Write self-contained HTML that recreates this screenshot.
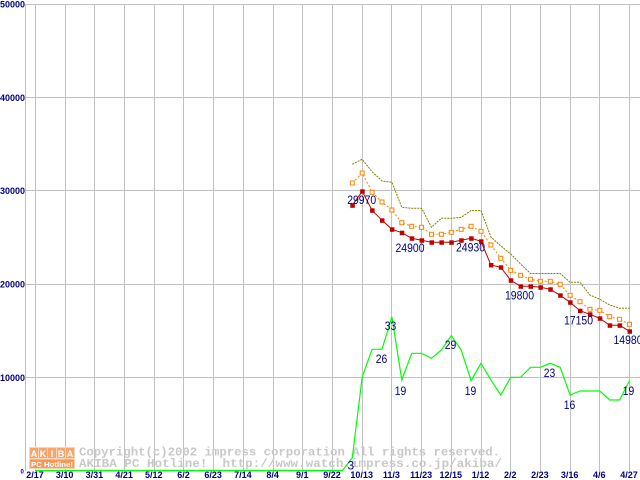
<!DOCTYPE html>
<html><head><meta charset="utf-8"><style>
html,body{margin:0;padding:0;background:#fff;}
svg{display:block;}
</style></head><body>
<svg width="640" height="480" viewBox="0 0 640 480" xmlns="http://www.w3.org/2000/svg">
<rect x="0" y="0" width="640" height="480" fill="#fff"/>
<g stroke="#c0c0c0" stroke-width="1" fill="none">
<line x1="25" y1="4.5" x2="640" y2="4.5"/>
<line x1="25" y1="97.5" x2="640" y2="97.5"/>
<line x1="25" y1="190.5" x2="640" y2="190.5"/>
<line x1="25" y1="284.5" x2="640" y2="284.5"/>
<line x1="25" y1="377.5" x2="640" y2="377.5"/>
<line x1="25.5" y1="4" x2="25.5" y2="471"/>
<line x1="35.5" y1="4" x2="35.5" y2="471"/>
<line x1="65.5" y1="4" x2="65.5" y2="471"/>
<line x1="94.5" y1="4" x2="94.5" y2="471"/>
<line x1="124.5" y1="4" x2="124.5" y2="471"/>
<line x1="154.5" y1="4" x2="154.5" y2="471"/>
<line x1="183.5" y1="4" x2="183.5" y2="471"/>
<line x1="213.5" y1="4" x2="213.5" y2="471"/>
<line x1="243.5" y1="4" x2="243.5" y2="471"/>
<line x1="273.5" y1="4" x2="273.5" y2="471"/>
<line x1="302.5" y1="4" x2="302.5" y2="471"/>
<line x1="332.5" y1="4" x2="332.5" y2="471"/>
<line x1="362.5" y1="4" x2="362.5" y2="471"/>
<line x1="391.5" y1="4" x2="391.5" y2="471"/>
<line x1="421.5" y1="4" x2="421.5" y2="471"/>
<line x1="451.5" y1="4" x2="451.5" y2="471"/>
<line x1="481.5" y1="4" x2="481.5" y2="471"/>
<line x1="510.5" y1="4" x2="510.5" y2="471"/>
<line x1="540.5" y1="4" x2="540.5" y2="471"/>
<line x1="570.5" y1="4" x2="570.5" y2="471"/>
<line x1="599.5" y1="4" x2="599.5" y2="471"/>
<line x1="629.5" y1="4" x2="629.5" y2="471"/>
</g>

<!-- watermark -->
<g>
<rect x="29" y="447" width="46" height="22" fill="#fcd6b4"/>
<rect x="30" y="448" width="8" height="10" fill="#f6a56c"/>
<rect x="39" y="448" width="8" height="10" fill="#f6a56c"/>
<rect x="48" y="448" width="8" height="10" fill="#f6a56c"/>
<rect x="57" y="448" width="8" height="10" fill="#f6a56c"/>
<rect x="66" y="448" width="8" height="10" fill="#f6a56c"/>
<text x="34" y="457" font-family="Liberation Sans, sans-serif" font-size="9" font-weight="bold" fill="#fff" text-anchor="middle">A</text>
<text x="43" y="457" font-family="Liberation Sans, sans-serif" font-size="9" font-weight="bold" fill="#fff" text-anchor="middle">K</text>
<text x="52" y="457" font-family="Liberation Sans, sans-serif" font-size="9" font-weight="bold" fill="#fff" text-anchor="middle">I</text>
<text x="61" y="457" font-family="Liberation Sans, sans-serif" font-size="9" font-weight="bold" fill="#fff" text-anchor="middle">B</text>
<text x="70" y="457" font-family="Liberation Sans, sans-serif" font-size="9" font-weight="bold" fill="#fff" text-anchor="middle">A</text>
<rect x="30" y="459.5" width="44" height="8.5" fill="#f29a5c"/>
<text x="31" y="467" font-family="Liberation Sans, sans-serif" font-size="7.5" font-weight="bold" fill="#fff" textLength="42" lengthAdjust="spacingAndGlyphs">PC Hotline!</text>
<text x="79" y="455.5" font-family="Liberation Mono, monospace" font-size="12" font-weight="bold" fill="#c8c8c8" textLength="421" lengthAdjust="spacingAndGlyphs" xml:space="preserve">Copyright(c)2002 impress corporation All rights reserved.</text>
<text x="79" y="467" font-family="Liberation Mono, monospace" font-size="12" font-weight="bold" fill="#c8c8c8" textLength="423" lengthAdjust="spacingAndGlyphs" xml:space="preserve">AKIBA PC Hotline!  http://www.watch.impress.co.jp/akiba/</text>
</g>

<!-- olive -->
<polyline fill="none" stroke="#808000" stroke-width="1" stroke-dasharray="2,1" points="352.3,164.3 362.2,159.3 372.1,171.7 382,181 391.9,182.3 401.8,207.3 411.7,208.3 421.6,208.3 431.5,227.3 441.4,218.3 451.3,218.3 461.2,217.3 471.1,210.5 481,210.5 490.9,237 500.8,246 510.7,254 520.6,264 530.5,273.5 540.4,273.5 550.3,273.5 560.2,273.5 570.1,282.3 580,282.3 589.9,295 599.8,299.3 609.7,305 619.6,308.3 629.5,308.3"/>

<!-- orange -->
<polyline fill="none" stroke="#ff8000" stroke-width="1" stroke-dasharray="2,2" points="352.3,183 362.2,173 372.1,192.3 382,202 391.9,210 401.8,222.7 411.7,226.3 421.6,227.3 431.5,234.3 441.4,234.3 451.3,232.3 461.2,229.3 471.1,226.3 481,231.3 490.9,245 500.8,258.3 510.7,270.3 520.6,275.3 530.5,279.3 540.4,281.3 550.3,281.3 560.2,284.3 570.1,295.3 580,301.7 589.9,309.3 599.8,310.3 609.7,316.7 619.6,319.3 629.5,324.3"/>
<g fill="#fff" stroke="#ff8000" stroke-width="1">
<rect x="350.3" y="181" width="4" height="4"/>
<rect x="360.2" y="171" width="4" height="4"/>
<rect x="370.1" y="190.3" width="4" height="4"/>
<rect x="380" y="200" width="4" height="4"/>
<rect x="389.9" y="208" width="4" height="4"/>
<rect x="399.8" y="220.7" width="4" height="4"/>
<rect x="409.7" y="224.3" width="4" height="4"/>
<rect x="419.6" y="225.3" width="4" height="4"/>
<rect x="429.5" y="232.3" width="4" height="4"/>
<rect x="439.4" y="232.3" width="4" height="4"/>
<rect x="449.3" y="230.3" width="4" height="4"/>
<rect x="459.2" y="227.3" width="4" height="4"/>
<rect x="469.1" y="224.3" width="4" height="4"/>
<rect x="479" y="229.3" width="4" height="4"/>
<rect x="488.9" y="243" width="4" height="4"/>
<rect x="498.8" y="256.3" width="4" height="4"/>
<rect x="508.7" y="268.3" width="4" height="4"/>
<rect x="518.6" y="273.3" width="4" height="4"/>
<rect x="528.5" y="277.3" width="4" height="4"/>
<rect x="538.4" y="279.3" width="4" height="4"/>
<rect x="548.3" y="279.3" width="4" height="4"/>
<rect x="558.2" y="282.3" width="4" height="4"/>
<rect x="568.1" y="293.3" width="4" height="4"/>
<rect x="578" y="299.7" width="4" height="4"/>
<rect x="587.9" y="307.3" width="4" height="4"/>
<rect x="597.8" y="308.3" width="4" height="4"/>
<rect x="607.7" y="314.7" width="4" height="4"/>
<rect x="617.6" y="317.3" width="4" height="4"/>
<rect x="627.5" y="322.3" width="4" height="4"/>
</g>

<!-- red -->
<polyline fill="none" stroke="#c00000" stroke-width="1" points="352.3,205.3 362.2,191.3 372.1,210.3 382,220.3 391.9,229.3 401.8,232.7 411.7,238.3 421.6,240.3 431.5,242.3 441.4,242.3 451.3,242.3 461.2,240.3 471.1,238.3 481,241.3 490.9,265 500.8,267.3 510.7,280.3 520.6,286.3 530.5,286.3 540.4,287.3 550.3,289.3 560.2,295.3 570.1,302.3 580,310.7 589.9,314.3 599.8,318.3 609.7,325.3 619.6,325.3 629.5,331.3"/>
<g fill="#c00000">
<rect x="350.3" y="203.3" width="4.5" height="4.5"/>
<rect x="360.2" y="189.3" width="4.5" height="4.5"/>
<rect x="370.1" y="208.3" width="4.5" height="4.5"/>
<rect x="380" y="218.3" width="4.5" height="4.5"/>
<rect x="389.9" y="227.3" width="4.5" height="4.5"/>
<rect x="399.8" y="230.7" width="4.5" height="4.5"/>
<rect x="409.7" y="236.3" width="4.5" height="4.5"/>
<rect x="419.6" y="238.3" width="4.5" height="4.5"/>
<rect x="429.5" y="240.3" width="4.5" height="4.5"/>
<rect x="439.4" y="240.3" width="4.5" height="4.5"/>
<rect x="449.3" y="240.3" width="4.5" height="4.5"/>
<rect x="459.2" y="238.3" width="4.5" height="4.5"/>
<rect x="469.1" y="236.3" width="4.5" height="4.5"/>
<rect x="479" y="239.3" width="4.5" height="4.5"/>
<rect x="488.9" y="263" width="4.5" height="4.5"/>
<rect x="498.8" y="265.3" width="4.5" height="4.5"/>
<rect x="508.7" y="278.3" width="4.5" height="4.5"/>
<rect x="518.6" y="284.3" width="4.5" height="4.5"/>
<rect x="528.5" y="284.3" width="4.5" height="4.5"/>
<rect x="538.4" y="285.3" width="4.5" height="4.5"/>
<rect x="548.3" y="287.3" width="4.5" height="4.5"/>
<rect x="558.2" y="293.3" width="4.5" height="4.5"/>
<rect x="568.1" y="300.3" width="4.5" height="4.5"/>
<rect x="578" y="308.7" width="4.5" height="4.5"/>
<rect x="587.9" y="312.3" width="4.5" height="4.5"/>
<rect x="597.8" y="316.3" width="4.5" height="4.5"/>
<rect x="607.7" y="323.3" width="4.5" height="4.5"/>
<rect x="617.6" y="323.3" width="4.5" height="4.5"/>
<rect x="627.5" y="329.3" width="4.5" height="4.5"/>
</g>

<!-- green -->
<polyline fill="none" stroke="#00ff00" stroke-width="1.2" points="35,470.5 342.4,470.5 352.3,457.7 362.2,377 372.1,349.3 382,349.3 391.9,316.7 401.8,380 411.7,353.3 421.6,353.3 431.5,358.3 441.4,350 451.3,335.7 461.2,350 471.1,380.7 481,363.3 490.9,380 500.8,395 510.7,377.3 520.6,377.3 530.5,367.3 540.4,367.3 550.3,363.3 560.2,367.3 570.1,395 580,391 589.9,391 599.8,391 609.7,400 619.6,400 629.5,380.7"/>

<!-- data labels -->
<g font-family="Liberation Sans, sans-serif" font-size="12" fill="#000080" text-anchor="middle">
<text x="361.7" y="204" textLength="29" lengthAdjust="spacingAndGlyphs">29970</text>
<text x="410" y="252" textLength="29" lengthAdjust="spacingAndGlyphs">24900</text>
<text x="470.5" y="251.7" textLength="29" lengthAdjust="spacingAndGlyphs">24930</text>
<text x="519.5" y="299.3" textLength="29" lengthAdjust="spacingAndGlyphs">19800</text>
<text x="578.5" y="324.3" textLength="29" lengthAdjust="spacingAndGlyphs">17150</text>
<text x="628" y="344" textLength="29" lengthAdjust="spacingAndGlyphs">14980</text>
<text x="390.5" y="330" textLength="11.5" lengthAdjust="spacingAndGlyphs">33</text>
<text x="381.5" y="363" textLength="11.5" lengthAdjust="spacingAndGlyphs">26</text>
<text x="400.5" y="395" textLength="11.5" lengthAdjust="spacingAndGlyphs">19</text>
<text x="450.5" y="349" textLength="11.5" lengthAdjust="spacingAndGlyphs">29</text>
<text x="470.5" y="395" textLength="11.5" lengthAdjust="spacingAndGlyphs">19</text>
<text x="549.5" y="377" textLength="11.5" lengthAdjust="spacingAndGlyphs">23</text>
<text x="569.5" y="409" textLength="11.5" lengthAdjust="spacingAndGlyphs">16</text>
<text x="628.5" y="395" textLength="11.5" lengthAdjust="spacingAndGlyphs">19</text>
<text x="350.8" y="469.5">3</text>
</g>

<!-- y axis labels -->
<g font-family="Liberation Sans, sans-serif" font-size="9" font-weight="bold" fill="#000080">
<text x="0" y="7.5" textLength="25" lengthAdjust="spacingAndGlyphs">50000</text>
<text x="0" y="100.8" textLength="25" lengthAdjust="spacingAndGlyphs">40000</text>
<text x="0" y="194" textLength="25" lengthAdjust="spacingAndGlyphs">30000</text>
<text x="0" y="287.5" textLength="25" lengthAdjust="spacingAndGlyphs">20000</text>
<text x="0" y="380.8" textLength="25" lengthAdjust="spacingAndGlyphs">10000</text>
<text x="20.5" y="473.5" font-size="6">0</text>
</g>

<!-- x axis labels -->
<g font-family="Liberation Sans, sans-serif" font-size="9" font-weight="bold" fill="#000080" text-anchor="middle">
<text x="35" y="478">2/17</text>
<text x="64.7" y="478">3/10</text>
<text x="94.4" y="478">3/31</text>
<text x="124.1" y="478">4/21</text>
<text x="153.8" y="478">5/12</text>
<text x="183.5" y="478">6/2</text>
<text x="213.2" y="478">6/23</text>
<text x="242.9" y="478">7/14</text>
<text x="272.6" y="478">8/4</text>
<text x="302.3" y="478">9/1</text>
<text x="332" y="478">9/22</text>
<text x="361.7" y="478">10/13</text>
<text x="391.4" y="478">11/3</text>
<text x="421.1" y="478">11/23</text>
<text x="450.8" y="478">12/15</text>
<text x="480.5" y="478">1/12</text>
<text x="510.2" y="478">2/2</text>
<text x="539.9" y="478">2/23</text>
<text x="569.6" y="478">3/16</text>
<text x="599.3" y="478">4/6</text>
<text x="629" y="478">4/27</text>
</g>
</svg>
</body></html>
